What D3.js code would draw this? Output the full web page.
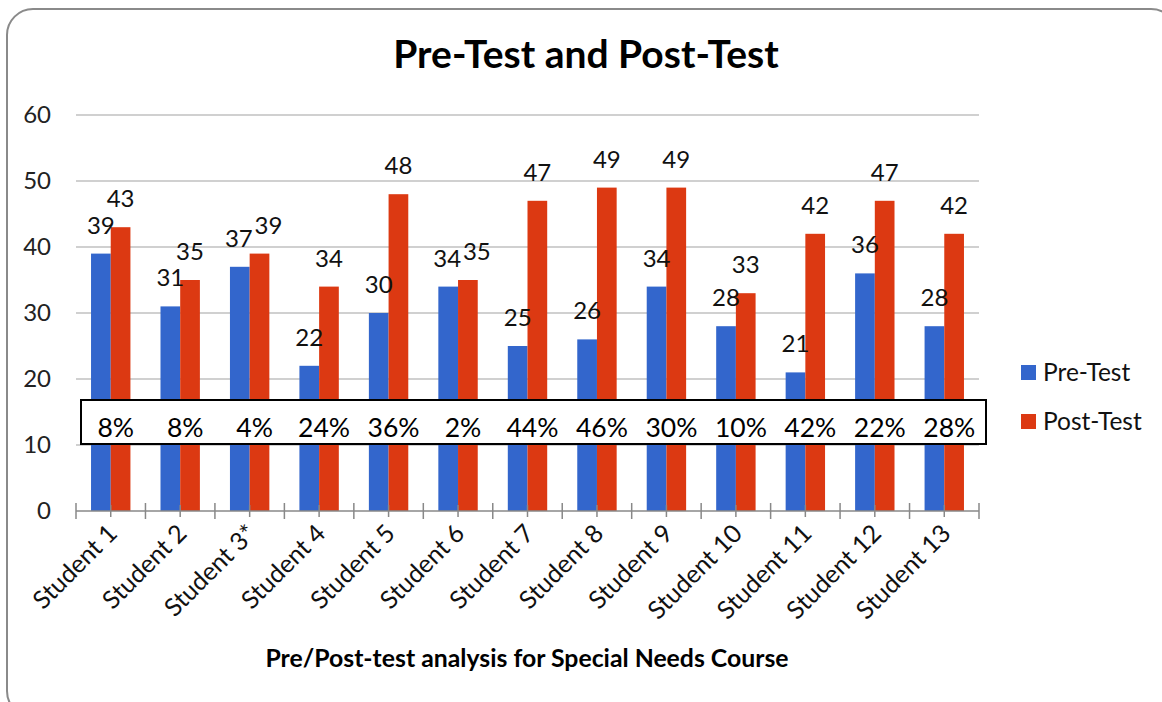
<!DOCTYPE html>
<html><head><meta charset="utf-8">
<script src="https://cdn.jsdelivr.net/npm/d3@7/dist/d3.min.js"></script>
<style>body{margin:0;background:#fff}svg{display:block}</style>
</head><body><svg id="c" width="1162" height="702"></svg>
<script>
const categories = ["Student 1","Student 2","Student 3*","Student 4","Student 5","Student 6","Student 7","Student 8","Student 9","Student 10","Student 11","Student 12","Student 13"];
const preTest = [39,31,37,22,30,34,25,26,34,28,21,36,28];
const postTest = [43,35,39,34,48,35,47,49,49,33,42,47,42];
const gainLabels = ["8%","8%","4%","24%","36%","2%","44%","46%","30%","10%","42%","22%","28%"];
const yTicks = [0,10,20,30,40,50,60];
const seriesNames = ["Pre-Test","Post-Test"];
const colors = ["#3366cc","#dc3912"];

const svg = d3.select("#c");
const F = "Lato, 'Open Sans', sans-serif";
svg.append("rect").attr("x",7).attr("y",9).attr("width",1170).attr("height",708)
  .attr("rx",26).attr("fill","#fff").attr("stroke","#8a8a8a").attr("stroke-width",2);

const x = d3.scaleBand().domain(categories).range([76,979]);
const y = d3.scaleLinear().domain([0,60]).range([511,115]);
const barW = 19.7;

// gridlines
svg.append("g").selectAll("line").data(yTicks.filter(d=>d>0)).join("line")
  .attr("x1",76).attr("x2",979).attr("y1",d=>y(d)).attr("y2",d=>y(d))
  .attr("stroke","#c0c0c0").attr("stroke-width",1.5);

// y labels
svg.append("g").selectAll("text").data(yTicks).join("text")
  .attr("x",51).attr("y",d=>y(d)+8).attr("text-anchor","end")
  .attr("font-family",F).attr("font-size",24).attr("fill","#222").text(d=>d);

// bars
const series = [preTest, postTest];
series.forEach((vals,si)=>{
  svg.append("g").selectAll("rect").data(vals).join("rect")
    .attr("x",(d,i)=>x(categories[i])+x.bandwidth()/2 - barW + si*barW)
    .attr("y",d=>y(d)).attr("width",barW).attr("height",d=>y(0)-y(d))
    .attr("fill",colors[si]);
});
// value labels (nudge apart when pre/post labels collide)
series.forEach((vals,si)=>{
  svg.append("g").selectAll("text").data(vals).join("text")
    .attr("x",(d,i)=>{
      const close = Math.abs(y(preTest[i]) - y(postTest[i])) < 20;
      const nudge = close ? (si===0 ? -1 : 9) : 0;
      return x(categories[i])+x.bandwidth()/2 - barW/2 + si*barW + nudge;
    })
    .attr("y",d=>y(d)-20).attr("text-anchor","middle")
    .attr("font-family",F).attr("font-size",24).attr("fill","#111").text(d=>d);
});

// x axis
const ax = svg.append("g");
ax.append("line").attr("x1",76).attr("x2",979).attr("y1",511).attr("y2",511)
  .attr("stroke","#888").attr("stroke-width",1.5);
const bounds = categories.map(c=>x(c)).concat([979]);
ax.selectAll(".tb").data(bounds).join("line").attr("class","tb")
  .attr("x1",d=>d).attr("x2",d=>d).attr("y1",503).attr("y2",519)
  .attr("stroke","#888").attr("stroke-width",1.5);
ax.selectAll(".tc").data(categories).join("line").attr("class","tc")
  .attr("x1",d=>x(d)+x.bandwidth()/2).attr("x2",d=>x(d)+x.bandwidth()/2).attr("y1",505).attr("y2",517)
  .attr("stroke","#888").attr("stroke-width",1.5);
ax.selectAll("text").data(categories).join("text")
  .attr("transform",d=>`translate(${x(d)+x.bandwidth()/2+8},${535}) rotate(-45)`)
  .attr("text-anchor","end").attr("font-family",F).attr("font-size",25).attr("fill","#111").text(d=>d);

// percent box
svg.append("rect").attr("x",81).attr("y",400).attr("width",905).attr("height",44)
  .attr("fill","#fff").attr("stroke","#000").attr("stroke-width",2);
svg.append("g").selectAll("text").data(gainLabels).join("text")
  .attr("x",(d,i)=>x(categories[i])+x.bandwidth()/2+5).attr("y",437)
  .attr("text-anchor","middle").attr("font-family",F).attr("font-size",26.5).attr("fill","#000").text(d=>d);

// title
svg.append("text").attr("x",586).attr("y",68).attr("text-anchor","middle")
  .attr("font-family",F).attr("font-weight","bold").attr("font-size",39).attr("fill","#000")
  .text("Pre-Test and Post-Test");
svg.append("text").attr("x",527).attr("y",667).attr("text-anchor","middle")
  .attr("font-family",F).attr("font-weight","bold").attr("font-size",24.8).attr("fill","#000")
  .text("Pre/Post-test analysis for Special Needs Course");

// legend
seriesNames.forEach((n,i)=>{
  const g = svg.append("g").attr("transform",`translate(1021,${365+i*49})`);
  g.append("rect").attr("width",15).attr("height",15).attr("fill",colors[i]);
  g.append("text").attr("x",22).attr("y",16).attr("font-family",F).attr("font-size",24.5).attr("fill","#111").text(n);
});
</script></body></html>
